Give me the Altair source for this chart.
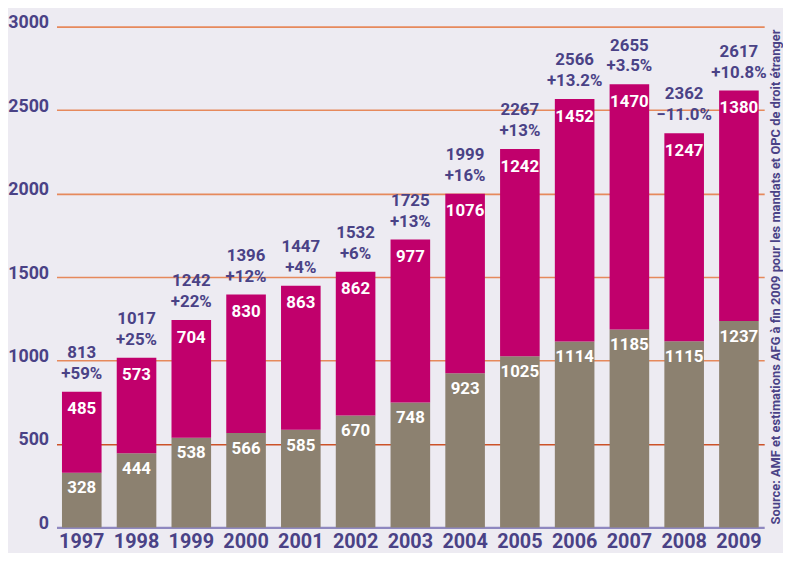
import altair as alt
import pandas as pd

years = ["1997", "1998", "1999", "2000", "2001", "2002", "2003",
         "2004", "2005", "2006", "2007", "2008", "2009"]
bottom = [328, 444, 538, 566, 585, 670, 748, 923, 1025, 1114, 1185, 1115, 1237]
top = [485, 573, 704, 830, 863, 862, 977, 1076, 1242, 1452, 1470, 1247, 1380]
totals = [813, 1017, 1242, 1396, 1447, 1532, 1725, 1999, 2267, 2566, 2655, 2362, 2617]
growth = ["+59%", "+25%", "+22%", "+12%", "+4%", "+6%", "+13%", "+16%",
          "+13%", "+13.2%", "+3.5%", "\u221211.0%", "+10.8%"]
source = "Source: AMF et estimations AFG \u00e0 fin 2009 pour les mandats et OPC de droit \u00e9tranger"

PURPLE = "#4a4286"
MAGENTA = "#c1006c"
TAUPE = "#8c8170"
BG = "#edebf2"
FONT = "Roboto"

rows = []
for yr, b, t in zip(years, bottom, top):
    rows.append({"year": yr, "part": "bottom", "value": b, "ord": 0})
    rows.append({"year": yr, "part": "top", "value": t, "ord": 1})
long = pd.DataFrame(rows)

wide = pd.DataFrame({"year": years, "bottom": bottom, "top": top,
                     "total": totals, "growth": growth})
wide["stack"] = wide["bottom"] + wide["top"]

xenc = alt.X("year:N", sort=years,
             scale=alt.Scale(paddingInner=0.277, paddingOuter=0.1),
             axis=alt.Axis(title=None, labelAngle=0, domain=False, ticks=False,
                           labelFont=FONT, labelFontSize=20, labelFontWeight="bold",
                           labelColor=PURPLE, labelBaseline="alphabetic", labelPadding=20))
yscale = alt.Scale(domain=[0, 3000], nice=False)

bars = alt.Chart(long).mark_bar().encode(
    x=xenc,
    y=alt.Y("value:Q", stack="zero", scale=yscale,
            axis=alt.Axis(title=None, values=[0, 500, 1000, 1500, 2000, 2500, 3000],
                          format="d", domain=False, ticks=False,
                          labelFont=FONT, labelFontSize=18, labelFontWeight="bold",
                          labelColor=PURPLE, labelPadding=8, labelOffset=-4,
                          grid=True,
                          gridColor={"condition": [
                              {"test": "datum.value === 0", "value": "#8f88c0"},
                              {"test": "datum.value === 500", "value": "#cc5228"}],
                              "value": "#e6895c"},
                          gridWidth={"condition": {"test": "datum.value === 0", "value": 2.2},
                                     "value": 1.6})),
    color=alt.Color("part:N", scale=alt.Scale(domain=["bottom", "top"], range=[TAUPE, MAGENTA]),
                    legend=None),
    order=alt.Order("ord:Q"),
)

base = alt.Chart(wide).encode(x=alt.X("year:N", sort=years))

lbl_bottom = base.mark_text(font=FONT, fontSize=17, fontWeight="bold", color="white", dy=16).encode(
    y=alt.Y("bottom:Q", scale=yscale), text="bottom:Q")
lbl_top = base.mark_text(font=FONT, fontSize=17, fontWeight="bold", color="white", dy=18).encode(
    y=alt.Y("stack:Q", scale=yscale), text="top:Q")
lbl_pct = base.mark_text(font=FONT, fontSize=17, fontWeight="bold", color=PURPLE, dy=-18).encode(
    y=alt.Y("stack:Q", scale=yscale), text="growth:N")
lbl_tot = base.mark_text(font=FONT, fontSize=17, fontWeight="bold", color=PURPLE, dy=-39).encode(
    y=alt.Y("stack:Q", scale=yscale), text="total:Q")

src = alt.Chart(pd.DataFrame({"t": [source]})).mark_text(
    font=FONT, fontSize=13, fontWeight="bold", color=PURPLE,
    angle=270, align="left", baseline="middle").encode(
    x=alt.value(727), y=alt.value(503), text="t:N")

chart = alt.layer(bars, lbl_bottom, lbl_top, lbl_pct, lbl_tot, src).properties(
    width=715, height=506,
    background=BG,
    padding={"left": 49, "top": 16, "right": 19, "bottom": 23},
    autosize=alt.AutoSizeParams(type="none"),
).configure_view(stroke=None)

chart.save("out.html", embed_options={"renderer": "svg", "actions": False})
